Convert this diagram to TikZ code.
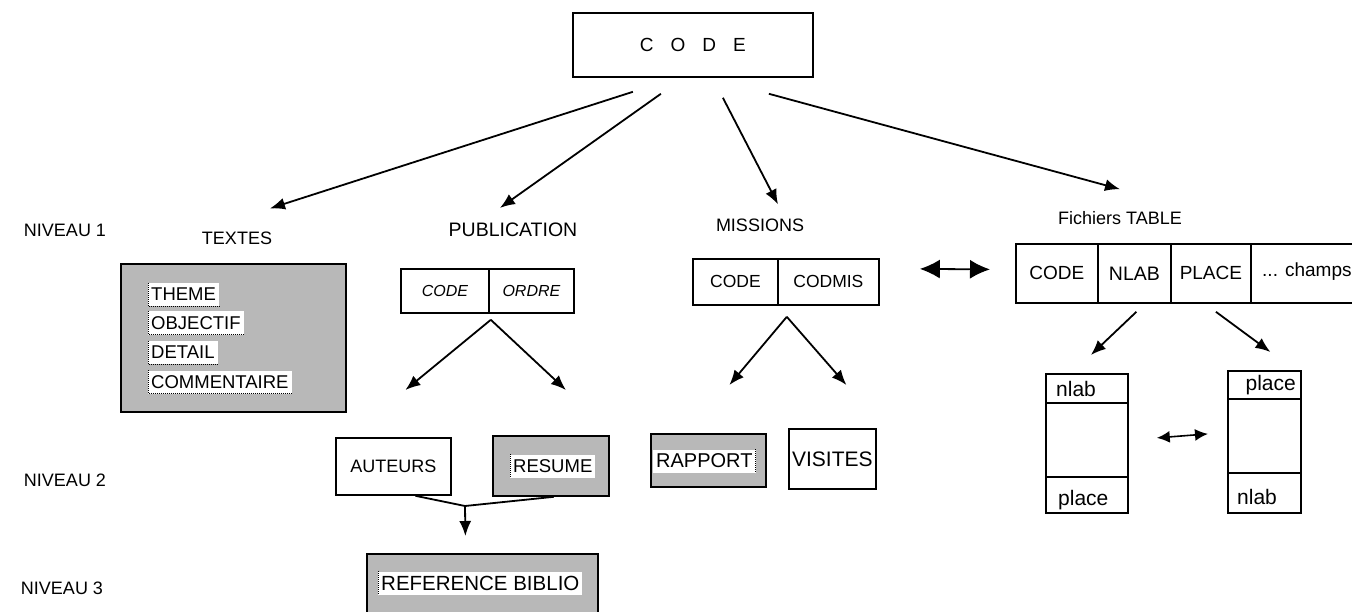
\documentclass[tikz,border=0pt]{standalone}
\usepackage{fontspec}
\setmainfont{Liberation Sans}
\usetikzlibrary{arrows.meta,calc}

\newcommand{\fsz}[1]{\fontsize{#1}{#1}\selectfont}

\begin{document}
\begin{tikzpicture}[x=1pt,y=-1pt,
  every node/.style={font=\fsz{18}},
  lbl/.style={font=\fsz{18}, inner sep=1pt},
  cell/.style={draw, line width=1.8pt, anchor=north west, inner sep=0pt},
  shadebox/.style={cell, fill=black!28},
  item/.style={fill=white, inner xsep=3pt, inner ysep=1pt, minimum height=23pt,
               anchor=west, font=\fsz{18.5}},
  arr/.style={line width=1.8pt, -{Latex[length=15pt,width=12pt]}},
  dbl/.style={line width=1.8pt, {Latex[length=20pt,width=19pt]}-{Latex[length=20pt,width=19pt]}},
  sdbl/.style={line width=1.6pt, {Latex[length=13pt,width=12pt]}-{Latex[length=13pt,width=12pt]}},
  seam/.style={densely dotted, line width=1pt}
]
\clip (0,0) rectangle (1352,612);

% root
\node[cell, minimum width=240pt, minimum height=64pt] (code) at (572,12)
  {\fsz{19}C\hspace{17pt}O\hspace{17pt}D\hspace{17pt}E};

% level captions
\node[lbl] (nv1) at (65,230) {NIVEAU 1};
\node[lbl] (nv2) at (65,480) {NIVEAU 2};
\node[lbl] (nv3) at (62,588) {NIVEAU 3};

\node[lbl] (ltx)  at (237,238) {TEXTES};
\node[lbl, font=\fsz{19.5}] (lpub) at (513,230) {PUBLICATION};
\node[lbl] (lmis) at (760,225) {MISSIONS};
\node[lbl] (lfic) at (1120,218) {Fichiers TABLE};

% arrows from the root
\draw[arr] ($(code.south)+(-60,14)$) -- ($(ltx.north)+(33,-22)$);
\draw[arr] ($(code.south)+(-32,16)$) -- ($(lpub.north)+(-13,-14)$);
\draw[arr] ($(code.south)+(30,20)$)  -- ($(lmis.north)+(18,-13)$);
\draw[arr] ($(code.south)+(76,16)$)  -- ($(lfic.north)+(0,-21)$);

% TEXTES block
\node[shadebox, minimum width=225pt, minimum height=148pt] (txt) at (120,263) {};
\node[item] (i1) at (148,294.5) {THEME};
\node[item] (i2) at (148,323) {OBJECTIF};
\node[item] (i3) at (148,352.5) {DETAIL};
\node[item] (i4) at (148,382) {COMMENTAIRE};
\foreach \n in {i1,i2,i3,i4}
  \draw[seam] (\n.north west) -- (\n.south west) -- (\n.south east);

% PUBLICATION record
\node[cell, minimum width=88pt, minimum height=44pt, font=\fsz{16}] (pc1) at (400,268) {\itshape CODE};
\node[cell, minimum width=85pt, minimum height=44pt, font=\fsz{16}] (pc2) at (488,268) {\itshape ORDRE};

\node[cell, minimum width=115pt, minimum height=57pt] (aut) at (335,437) {AUTEURS};
\node[shadebox, minimum width=116pt, minimum height=60pt] (res) at (492,435) {};
\node[item] (resi) at (510,466) {RESUME};
\draw[seam] (resi.north west) -- (resi.south west);

\draw[arr] ($(pc1.south east)+(1,6)$) -- ($(aut.north)+(12,-47)$);
\draw[arr] ($(pc1.south east)+(1,6)$) -- ($(res.north)+(15,-45)$);

% merge of AUTEURS and RESUME into REFERENCE BIBLIO
\node[shadebox, minimum width=231pt, minimum height=80pt] (ref) at (366,553) {};
\node[item, font=\fsz{20.5}] (refi) at (378,583) {REFERENCE BIBLIO};
\draw[seam] (refi.north west) -- (refi.south west);
\coordinate (join) at (465,506);
\draw[line width=1.8pt] ($(aut.south)+(22,0)$) -- (join) -- ($(res.south)+(3,0)$);
\draw[arr] (join) -- ($(ref.north)+(-17,-17)$);

% MISSIONS record
\node[cell, minimum width=85pt, minimum height=46pt, font=\fsz{17.5}] (mc1) at (692,258) {CODE};
\node[cell, minimum width=101pt, minimum height=46pt, font=\fsz{17.5}] (mc2) at (777,258) {CODMIS};

\node[shadebox, minimum width=115pt, minimum height=53pt] (rap) at (650,433) {};
\node[item, font=\fsz{20}] (rapi) at (653,461) {RAPPORT};
\draw[seam] (rapi.north east) -- (rapi.south east);
\node[cell, minimum width=87pt, minimum height=60pt, font=\fsz{21}] (vis) at (788,428) {VISITES};

\draw[arr] ($(mc1.south east)+(8,11)$) -- ($(rap.north)+(21,-48)$);
\draw[arr] ($(mc1.south east)+(8,11)$) -- ($(vis.north)+(14,-43)$);

% table file record
\node[cell, minimum width=82pt, minimum height=59pt, font=\fsz{19}] (t1) at (1015,243) {CODE};
\node[cell, minimum width=73pt, minimum height=59pt, font=\fsz{19.5}] (t2) at (1097,243) {NLAB};
\node[cell, minimum width=80pt, minimum height=59pt, font=\fsz{19}] (t3) at (1170,243) {PLACE};
\node[cell, minimum width=130pt, minimum height=59pt] (t4) at (1250,243) {};
\node[anchor=west, inner sep=0pt, font=\fsz{19}] (t4t) at (1262,272) {... champs};

\draw[dbl] ($(mc2.east)+(40,-13)$) -- ($(t1.west)+(-25,-4)$);

% index columns
\node[cell, minimum width=82pt, minimum height=29pt] (a1) at (1045,373) {};
\node[cell, minimum width=82pt, minimum height=74pt] (a2) at (1045,402) {};
\node[cell, minimum width=82pt, minimum height=36pt] (a3) at (1045,476) {};
\node[anchor=west, inner sep=0pt, font=\fsz{21}] (a1t) at (1056,389) {nlab};
\node[anchor=west, inner sep=0pt, font=\fsz{21}] (a3t) at (1058,500) {place};

\node[cell, minimum width=73pt, minimum height=28pt] (b1) at (1227,370) {};
\node[cell, minimum width=73pt, minimum height=74pt] (b2) at (1227,398) {};
\node[cell, minimum width=73pt, minimum height=40pt] (b3) at (1227,472) {};
\node[anchor=east, inner sep=0pt, font=\fsz{21}] (b1t) at (1296,385) {place};
\node[anchor=west, inner sep=0pt, font=\fsz{21}] (b3t) at (1237,497) {nlab};

\draw[arr] ($(t2.south)+(2,8)$) -- ($(a1.north)+(4,-18)$);
\draw[arr] ($(t3.south)+(5,8)$) -- ($(b1.north)+(6,-18)$);
\draw[sdbl] ($(a2.east)+(28,-2)$) -- ($(b2.west)+(-19,-2)$);
\end{tikzpicture}
\end{document}
